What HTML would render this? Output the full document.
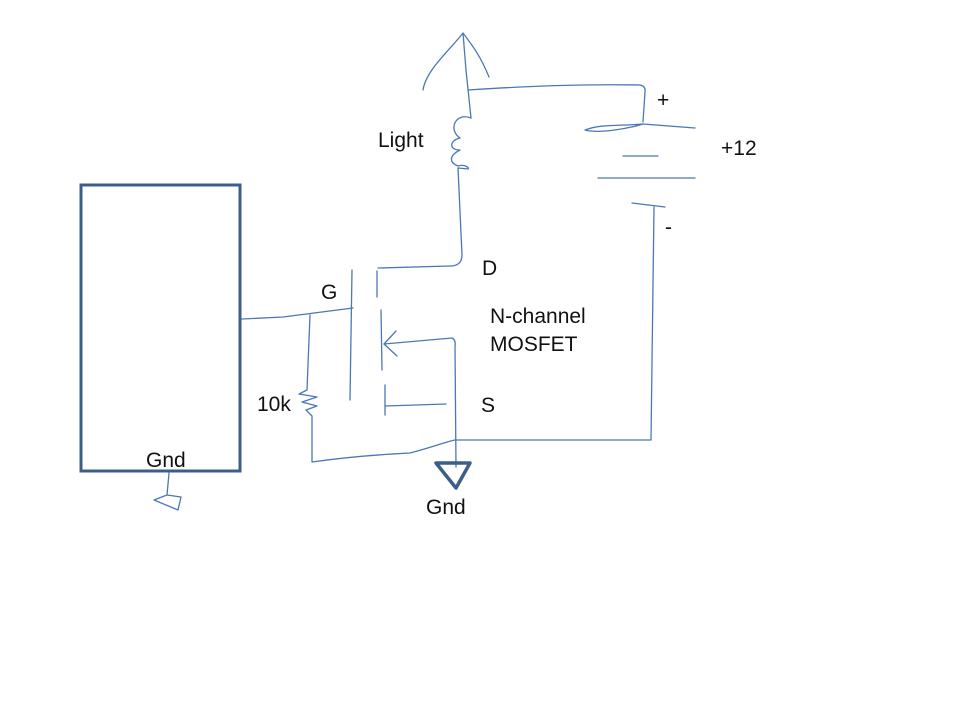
<!DOCTYPE html>
<html><head><meta charset="utf-8"><style>
html,body{margin:0;padding:0;background:#fff;width:960px;height:720px;overflow:hidden}
svg{display:block}
text{font-family:"Liberation Sans",sans-serif;font-size:21px;fill:#111}
</style></head><body>
<svg width="960" height="720" viewBox="0 0 960 720" xmlns="http://www.w3.org/2000/svg">
<rect x="81" y="185" width="159" height="286" fill="none" stroke="#3b5f88" stroke-width="3"/>
<g fill="none" stroke="#4a78b5" stroke-width="1.3" stroke-linecap="round" stroke-linejoin="round">
<path d="M463,33 L466,70 L471,118"/>
<path d="M423,90 C426,70 450,50 463,33 C472,45 480,55 489,77"/>
<path d="M468,90 C530,86 580,84 640,85 Q646,86 645,92 L643,122"/>
<path d="M695,128 L643,124 C620,126 600,124 585,130 C600,134 630,128 643,124"/>
<path d="M623,156 L658,156"/>
<path d="M598,178 L695,178"/>
<path d="M632,203 L665,207"/>
<path d="M654,207 L651,440 L520,440 L455,440"/>
<path d="M471,118 C455,112 448,130 460,138 C450,140 448,150 460,150 C450,155 448,162 458,166 C465,164 470,168 468,169 L458,168"/>
<path d="M458,168 L462,255 Q462,266 450,266 L378,268"/>
<path d="M377,271 L377,297"/>
<path d="M352,270 L350,400"/>
<path d="M242,319 L283,317 L353,308"/>
<path d="M310,315 L307,390 L299,394 L317,397 L302,402 L317,406 L306,410 L312,416 L312,462 C340,458 370,455 410,453 C430,448 445,442 455,440"/>
<path d="M381,310 L382,370"/>
<path d="M384,344 L452,338 Q456,340 455,346 L456,467"/>
<path d="M396,331 L384,344 L397,356"/>
<path d="M385,385 L385,415"/>
<path d="M385,406 L446,404"/>
<path d="M169,473 L167,495 L154,500 L178,510 L181,497 L167,495"/>
</g>
<path d="M436,463 L470,463 L456,488 Z" fill="none" stroke="#3b5f88" stroke-width="3.5" stroke-linejoin="round"/>
<text x="378" y="147">Light</text>
<text x="657" y="107" font-size="17">+</text>
<text x="721" y="155">+12</text>
<text x="665" y="234" font-size="17">-</text>
<text x="482" y="275">D</text>
<text x="321" y="299">G</text>
<text x="490" y="323">N-channel</text>
<text x="490" y="351">MOSFET</text>
<text x="257" y="411">10k</text>
<text x="481" y="412">S</text>
<text x="146" y="467">Gnd</text>
<text x="426" y="514">Gnd</text>
</svg>
</body></html>
